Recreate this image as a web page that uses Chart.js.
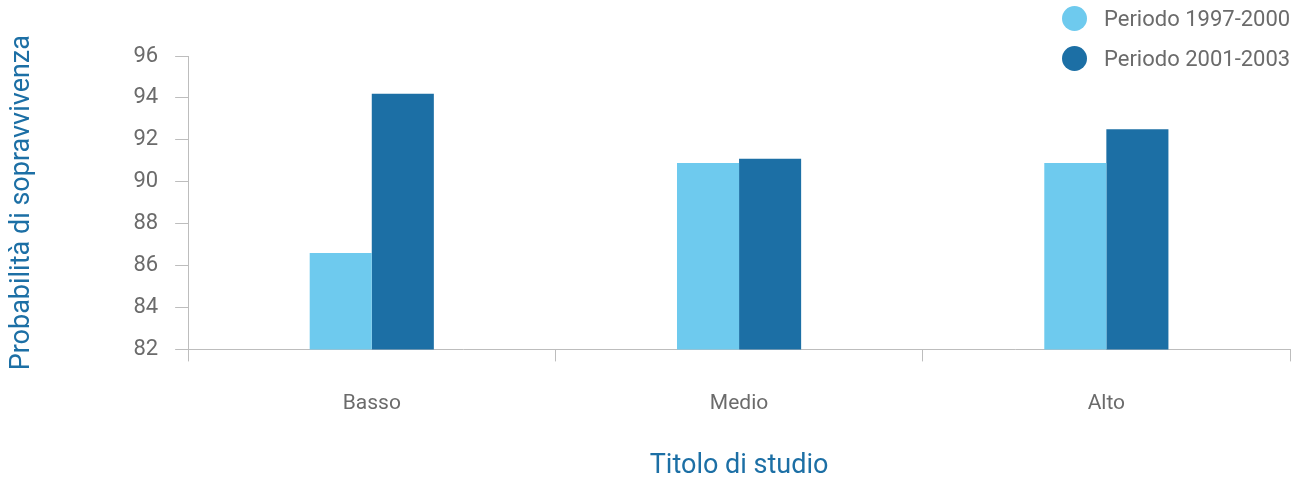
<!DOCTYPE html>
<html>
<head>
<meta charset="utf-8">
<script src="https://cdn.jsdelivr.net/npm/chart.js@4"></script>
<style>
  html, body { margin: 0; padding: 0; background: #fff; }
  #wrap { position: relative; width: 1304px; height: 482px; }
  #legend { position: absolute; top: -2px; left: 1062px; font: 22px Roboto, sans-serif; color: #6b6b6b; }
  #legend div { display: flex; align-items: center; height: 40px; }
  #legend i { display: inline-block; width: 25px; height: 25px; border-radius: 50%; margin-right: 17px; }
</style>
</head>
<body>
<div id="wrap">
  <canvas id="c" width="1304" height="482"></canvas>
  <div id="legend"></div>
</div>
<script>
const categories = ["Basso", "Medio", "Alto"];
const seriesNames = ["Periodo 1997-2000", "Periodo 2001-2003"];
const valuesA = [86.6, 90.9, 90.9];
const valuesB = [94.2, 91.1, 92.5];
const yTicks = [82, 84, 86, 88, 90, 92, 94, 96];

const LIGHT = "#6ecaee";
const DARK = "#1c6fa5";
const AXIS = "#bdbdbd";
const TEXT = "#6b6b6b";

Chart.defaults.font.family = "Roboto, sans-serif";
Chart.defaults.animation = false;

new Chart(document.getElementById("c"), {
  type: "bar",
  data: {
    labels: categories,
    datasets: [
      { label: seriesNames[0], data: valuesA, backgroundColor: LIGHT },
      { label: seriesNames[1], data: valuesB, backgroundColor: DARK },
    ],
  },
  options: {
    responsive: false,
    layout: { padding: { top: 56, right: 14, left: 6, bottom: 0 } },
    datasets: { bar: { barPercentage: 1, categoryPercentage: 0.338 } },
    plugins: { legend: { display: false }, tooltip: { enabled: false } },
    scales: {
      x: {
        grid: { display: true, drawOnChartArea: false, offset: true, tickLength: 12, color: AXIS },
        border: { color: AXIS },
        ticks: { color: TEXT, font: { size: 21 }, padding: 30 },
        title: { display: true, text: "Titolo di studio", color: DARK, font: { size: 27 }, padding: { top: 3, bottom: 0 } },
      },
      y: {
        min: 82,
        max: 96,
        afterBuildTicks: (s) => { s.ticks = yTicks.map((v) => ({ value: v })); },
        grid: { drawOnChartArea: false, tickLength: 13, color: AXIS },
        border: { color: AXIS },
        ticks: { color: TEXT, font: { size: 22 }, padding: 17 },
        title: { display: true, text: "Probabilità di sopravvivenza", color: DARK, font: { size: 27 }, padding: { top: 0, bottom: 78 } },
      },
    },
  },
});

document.getElementById("legend").innerHTML = seriesNames
  .map((n, i) => `<div><i style="background:${i ? DARK : LIGHT}"></i>${n}</div>`)
  .join("");
</script>
</body>
</html>
